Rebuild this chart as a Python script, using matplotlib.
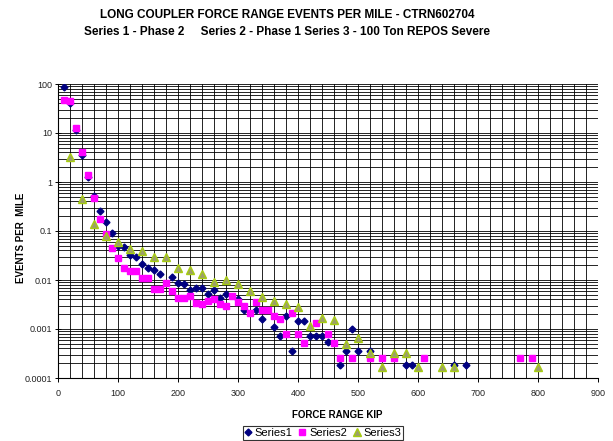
import matplotlib
matplotlib.use("Agg")
import matplotlib.pyplot as plt
from matplotlib.ticker import MultipleLocator, LogLocator, NullFormatter
import numpy as np

plt.rcParams['font.family'] = ['Liberation Sans', 'DejaVu Sans']

# Series 1 - Phase 2
s1_x = [10, 20, 30, 40, 50, 60, 70, 80, 90, 100, 110, 120, 130, 140, 150, 160, 170, 190, 200,
        210, 220, 230, 240, 250, 260, 270, 280, 300, 310, 330, 340, 360, 370, 380, 390, 400,
        410, 420, 430, 440, 450, 470, 480, 490, 500, 520, 580, 590, 660, 680]
s1_y = [85, 40, 11.5, 3.6, 1.25, 0.53, 0.26, 0.15, 0.092, 0.05, 0.0465, 0.032, 0.030, 0.0212,
        0.0178, 0.0162, 0.0132, 0.0113, 0.0087, 0.0084, 0.00625, 0.007, 0.00675, 0.0051,
        0.00625, 0.0042, 0.0051, 0.0040, 0.0024, 0.0024, 0.00163, 0.00108, 0.00072, 0.0018,
        0.00036, 0.00146, 0.00146, 0.00072, 0.00072, 0.00072, 0.00054, 0.00018, 0.00036,
        0.001, 0.00036, 0.00036, 0.00018, 0.00018, 0.00018, 0.00018]

# Series 2 - Phase 1
s2_x = [10, 20, 30, 40, 50, 60, 70, 80, 90, 100, 110, 120, 130, 140, 150, 160, 170, 180, 190,
        200, 210, 220, 230, 240, 250, 260, 270, 280, 290, 300, 310, 320, 330, 340, 350, 360,
        370, 380, 390, 400, 410, 430, 450, 460, 470, 490, 520, 540, 560, 610, 770, 790]
s2_y = [47, 44, 12.8, 4.0, 1.39, 0.48, 0.176, 0.086, 0.045, 0.0277, 0.0178, 0.0153, 0.0153,
        0.0108, 0.011, 0.0066, 0.0066, 0.0088, 0.006, 0.00423, 0.00423, 0.0048, 0.00344,
        0.0032, 0.0038, 0.004, 0.0032, 0.0029, 0.0048, 0.0035, 0.0029, 0.0021, 0.0035,
        0.0024, 0.0024, 0.00187, 0.0016, 0.00079, 0.00215, 0.00079, 0.00052, 0.00133,
        0.00079, 0.00052, 0.00026, 0.00026, 0.00026, 0.00026, 0.00026, 0.00026, 0.00026,
        0.00026]

# Series 3 - 100 Ton REPOS Severe
s3_x = [20, 40, 60, 80, 100, 120, 140, 160, 180, 200, 220, 240, 260, 280, 300, 320, 340, 360,
        380, 400, 420, 440, 460, 480, 500, 520, 540, 560, 580, 600, 640, 660, 800]
s3_y = [3.2, 0.45, 0.139, 0.080, 0.0605, 0.042, 0.0385, 0.0295, 0.0295, 0.0176, 0.016, 0.0132,
        0.0092, 0.010, 0.0082, 0.006, 0.0044, 0.0037, 0.0032, 0.0028, 0.00115, 0.00168,
        0.0015, 0.0005, 0.00066, 0.00032, 0.000166, 0.00032, 0.00032, 0.000166, 0.000166,
        0.000166, 0.000166]

y_ticks = [0.0001, 0.001, 0.01, 0.1, 1, 10, 100]
y_labels = ['0.0001', '0.001', '0.01', '0.1', '1', '10', '100']
x_ticks = [0, 100, 200, 300, 400, 500, 600, 700, 800, 900]

fig = plt.figure(figsize=(6.13, 4.41), dpi=100)
ax = fig.add_axes([58/613, 1-378/441, 540/613, 294/441])

ax.set_yscale('log')
ax.set_xlim(0, 900)
ax.set_ylim(0.0001, 100)

# grid
ax.xaxis.set_minor_locator(MultipleLocator(20))
ax.yaxis.set_minor_locator(LogLocator(base=10, subs=np.arange(2, 10)))
ax.yaxis.set_minor_formatter(NullFormatter())
ax.grid(True, which='both', axis='both', color='black', linewidth=0.6)
ax.set_axisbelow(True)

ax.set_xticks(x_ticks)
ax.set_xticklabels([str(v) for v in x_ticks], fontsize=6.5, color='#222222')
ax.set_yticks(y_ticks)
ax.set_yticklabels(y_labels, fontsize=6.5, color='#222222')
ax.tick_params(axis='x', which='major', direction='out', length=3, width=0.7, pad=5)
ax.tick_params(axis='x', which='minor', length=0)
ax.tick_params(axis='y', which='major', direction='inout', length=5, width=0.7, pad=1.5)
ax.tick_params(axis='y', which='minor', length=0)

for s in ['top', 'right']:
    ax.spines[s].set_visible(False)
for s in ['left', 'bottom']:
    ax.spines[s].set_color('black')
    ax.spines[s].set_linewidth(0.8)

ax.plot(s1_x, s1_y, linestyle='none', marker='D', markersize=3.5,
        color='#000080', markeredgecolor='#000080', label='Series1', zorder=3)
ax.plot(s2_x, s2_y, linestyle='none', marker='s', markersize=4.3,
        color='#FF00FF', markeredgecolor='#FF00FF', label='Series2', zorder=4)
ax.plot(s3_x, s3_y, linestyle='none', marker='^', markersize=6.0,
        markerfacecolor='#9C9F6A', markeredgecolor='#A6CC10', markeredgewidth=1.0,
        label='Series3', zorder=5)

fig.text(337/613, 1-415/441, 'FORCE RANGE KIP', fontsize=7, fontweight='bold',
         ha='center', va='center')
fig.text(21/613, 1-238/441, 'EVENTS PER  MILE', fontsize=7, fontweight='bold',
         ha='center', va='center', rotation=90)

fig.text(287/613, 1-15/441, 'LONG COUPLER FORCE RANGE EVENTS PER MILE - CTRN602704',
         ha='center', va='center', fontsize=8.5, fontweight='bold')
fig.text(287/613, 1-32/441, 'Series 1 - Phase 2     Series 2 - Phase 1 Series 3 - 100 Ton REPOS Severe',
         ha='center', va='center', fontsize=8.5, fontweight='bold')

leg = fig.legend(loc='center', bbox_to_anchor=(323/613, 1-433/441), ncol=3,
                 fontsize=8, frameon=True, fancybox=False, edgecolor='black',
                 handlelength=0.6, handletextpad=0.3, columnspacing=0.6,
                 borderpad=0.15, borderaxespad=0)
leg.get_frame().set_linewidth(0.8)

fig.savefig('out.png', dpi=100)
